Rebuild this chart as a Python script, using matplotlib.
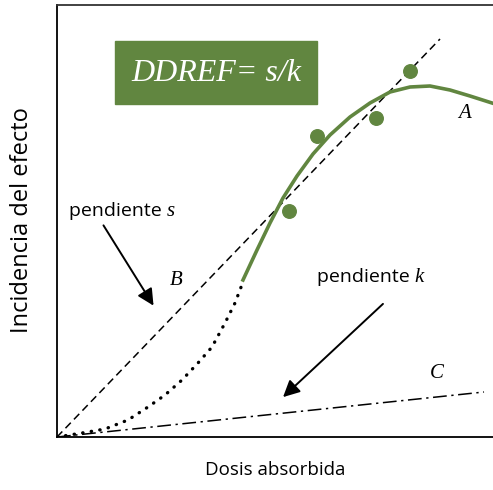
import matplotlib.pyplot as plt
from matplotlib.patches import Rectangle

# curva A (verde), coordenadas en unidades arbitrarias
a_x = [186, 200, 213, 226, 240, 256, 273, 293, 313, 333, 353, 373, 393, 413, 435]
a_y = [157, 187, 214, 239, 261, 283, 302, 320, 334, 345, 350, 351, 347, 341, 334]

# tramo punteado (bajas dosis)
p_x = [0, 25, 48, 71, 91, 108, 125, 141, 155, 168, 178, 186]
p_y = [0, 4, 8, 17, 30, 42, 57, 74, 90, 114, 134, 155]

# puntos experimentales
pts_x = [232, 260, 319, 353]
pts_y = [226, 301, 319, 366]

# rectas B (pendiente s) y C (pendiente k)
b_x = [0, 383]
b_y = [0, 398]
c_x = [0, 427]
c_y = [0, 45]

verde = "#618640"

fig = plt.figure(figsize=(4.93, 4.90), dpi=100)
ax = fig.add_axes([57/493, 1-437/490, 436/493, 432/490])
ax.set_xlim(0, 436)
ax.set_ylim(0, 432)

ax.plot(b_x, b_y, color="black", lw=1.1, ls=(0, (5, 3)))
ax.plot(c_x, c_y, color="black", lw=1.1, ls=(0, (9, 3, 1.5, 3)))
ax.plot(p_x, p_y, color="black", lw=2.4, ls=(0, (0.1, 2.5)), dash_capstyle="round")
ax.plot(a_x, a_y, color=verde, lw=2.6, solid_joinstyle="round")
ax.scatter(pts_x, pts_y, s=95, color=verde, zorder=5)

# caja DDREF
ax.add_patch(Rectangle((58, 333), 202, 63, color=verde, zorder=6))
ax.text(159, 364, "DDREF= s/k", color="white", fontsize=23, family="Liberation Serif",
        style="italic", ha="center", va="center", zorder=7)

# etiquetas
t1 = ax.text(12, 226, "pendiente ", fontsize=14, family="Open Sans", va="center")
ax.annotate("s", xy=(1, 0.45), xycoords=t1, va="center", fontsize=15,
            family="Liberation Serif", style="italic")
ax.annotate("", xy=(98, 129), xytext=(45, 214),
            arrowprops=dict(arrowstyle="-|>,head_length=1.0,head_width=0.5", color="black", lw=1.4))
ax.text(119, 157, "B", fontsize=15, family="Liberation Serif", style="italic", ha="center", va="center")

t2 = ax.text(260, 160, "pendiente ", fontsize=14, family="Open Sans", va="center")
ax.annotate("k", xy=(1, 0.5), xycoords=t2, va="center", fontsize=15,
            family="Liberation Serif", style="italic")
ax.annotate("", xy=(224, 38), xytext=(328, 135),
            arrowprops=dict(arrowstyle="-|>,head_length=1.0,head_width=0.5", color="black", lw=1.4))
ax.text(380, 64, "C", fontsize=15, family="Liberation Serif", style="italic", ha="center", va="center")
ax.text(408, 324, "A", fontsize=15, family="Liberation Serif", style="italic", ha="center", va="center")

ax.set_xticks([])
ax.set_yticks([])
ax.spines["right"].set_visible(False)
for s in ["left", "bottom", "top"]:
    ax.spines[s].set_linewidth(1.3)
ax.spines["top"].set_color("#333333")

fig.text(275/493, 1-470/490, "Dosis absorbida", fontsize=13.5, family="Open Sans",
         ha="center", va="center")
fig.text(22/493, 1-220/490, "Incidencia del efecto", fontsize=17, family="Open Sans",
         ha="center", va="center", rotation=90)

plt.savefig("out.png", dpi=100)
